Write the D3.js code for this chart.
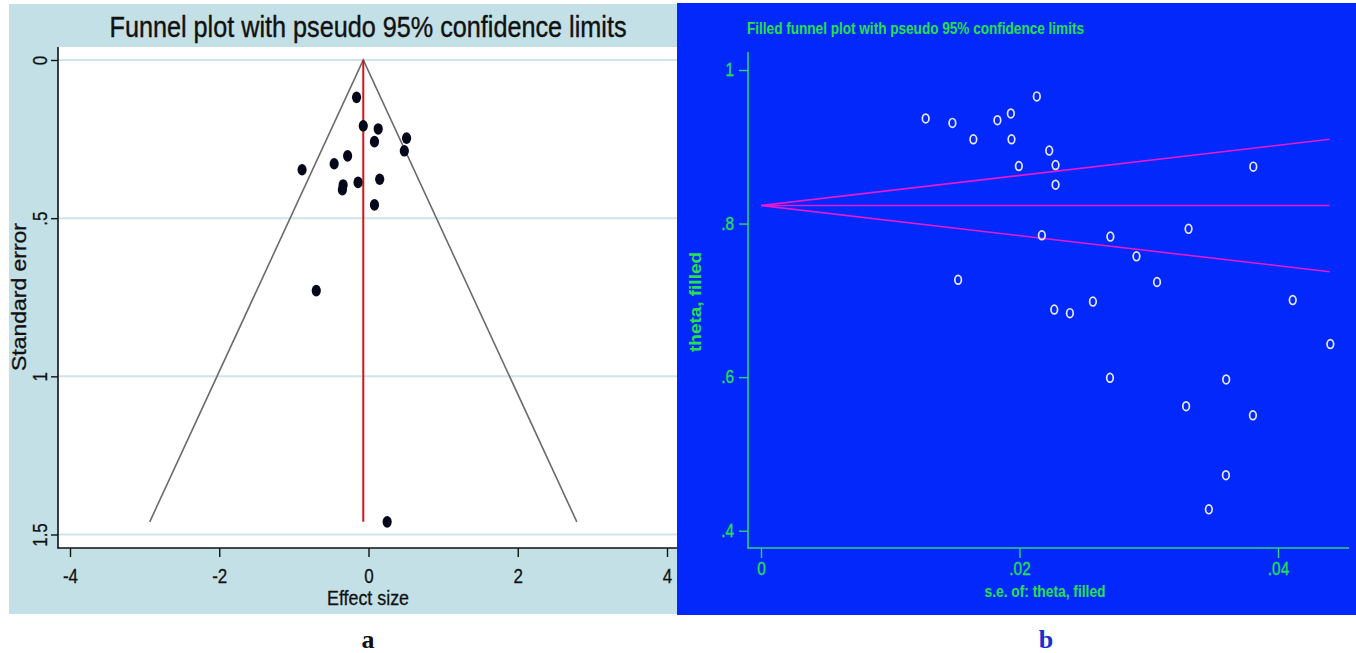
<!DOCTYPE html>
<html>
<head>
<meta charset="utf-8">
<script src="https://cdn.jsdelivr.net/npm/d3@7"></script>
<style>
  html, body { margin: 0; padding: 0; background: #ffffff; }
  svg { display: block; }
</style>
</head>
<body>
<svg id="chart" width="1356" height="653"></svg>
<script>
// ---------- Panel a data: funnel plot ----------
const leftEffect = [-0.16, -0.07, 0.13, 0.08, 0.51, 0.48, -0.28, -0.46, -0.89, -0.14, 0.15, -0.34, -0.35, 0.08, -0.70, 0.25];
const leftSE     = [0.118, 0.208, 0.218, 0.258, 0.247, 0.287, 0.303, 0.328, 0.347, 0.387, 0.377, 0.395, 0.410, 0.458, 0.729, 1.460];
const leftPooled = -0.07;
const leftMaxSE = 1.46;
const leftXTicks = [-4, -2, 0, 2, 4];
const leftXTickLabels = ["-4", "-2", "0", "2", "4"];
const leftYTicks = [0, 0.5, 1, 1.5];
const leftYTickLabels = ["0", ".5", "1", "1.5"];

// ---------- Panel b data: filled funnel plot ----------
const rightSE    = [0.01274, 0.01481, 0.01643, 0.01829, 0.01933, 0.01938, 0.01995, 0.02134, 0.02230, 0.02279, 0.02279, 0.03809, 0.02173, 0.02703, 0.03308, 0.02905, 0.01525, 0.03064, 0.02568, 0.02269, 0.02390, 0.04114, 0.04405, 0.02700, 0.03599, 0.03289, 0.03806, 0.03597, 0.03465];
const rightTheta = [0.9369, 0.9311, 0.9098, 0.9346, 0.9434, 0.9098, 0.8749, 0.9656, 0.8950, 0.8762, 0.8506, 0.8741, 0.7847, 0.7830, 0.7931, 0.7573, 0.7268, 0.7239, 0.6984, 0.6880, 0.6833, 0.7003, 0.6431, 0.5991, 0.5970, 0.5621, 0.5503, 0.4723, 0.4278];
const rightPooled = 0.8235;
const rightMaxSE = 0.044;
const rightXTicks = [0, 0.02, 0.04];
const rightXTickLabels = ["0", ".02", ".04"];
const rightYTicks = [0.4, 0.6, 0.8, 1];
const rightYTickLabels = [".4", ".6", ".8", "1"];

const svg = d3.select("#chart");
const narrow = "'Liberation Sans Narrow', 'Arial Narrow', 'Liberation Sans', Arial, sans-serif";

// squeeze text horizontally to mimic a condensed face
function condense(sel, f) {
  sel.each(function () {
    const w = this.getComputedTextLength();
    d3.select(this).attr("textLength", w * f).attr("lengthAdjust", "spacingAndGlyphs");
  });
}

// =================== PANEL A ===================
const gA = svg.append("g");
gA.append("rect").attr("x", 9).attr("y", 4).attr("width", 668).attr("height", 610).attr("fill", "#c4e0e7");
gA.append("rect").attr("x", 58).attr("y", 47).attr("width", 619).attr("height", 501).attr("fill", "#ffffff");

const xL = d3.scaleLinear().domain([-4, 4]).range([70, 667]);
const yL = d3.scaleLinear().domain([0, 1.5]).range([60, 534.5]);

// gridlines
gA.append("g").selectAll("line").data(leftYTicks).join("line")
  .attr("x1", 58).attr("x2", 677)
  .attr("y1", d => yL(d)).attr("y2", d => yL(d))
  .attr("stroke", "#cde5ea").attr("stroke-width", 2);

// funnel lines
const funnelPts = [[leftPooled - 1.96 * leftMaxSE, leftMaxSE], [leftPooled, 0], [leftPooled + 1.96 * leftMaxSE, leftMaxSE]];
gA.append("path")
  .attr("d", d3.line().x(d => xL(d[0])).y(d => yL(d[1]))(funnelPts))
  .attr("fill", "none").attr("stroke", "#6b6b6b").attr("stroke-width", 1.6);
gA.append("line")
  .attr("x1", xL(leftPooled)).attr("x2", xL(leftPooled))
  .attr("y1", yL(0)).attr("y2", yL(leftMaxSE))
  .attr("stroke", "#d4141a").attr("stroke-width", 2);

// points
gA.append("g").selectAll("ellipse").data(leftEffect).join("ellipse")
  .attr("cx", (d) => xL(d)).attr("cy", (d, i) => yL(leftSE[i]))
  .attr("rx", 4.6).attr("ry", 5.8).attr("fill", "#05081a");

// axes
const axL = gA.append("g").attr("transform", "translate(58,0)")
  .call(d3.axisLeft(yL).tickValues(leftYTicks).tickFormat((d, i) => leftYTickLabels[i]).tickSize(7).tickSizeOuter(0));
axL.select(".domain").remove();
axL.selectAll("line").attr("stroke", "#111").attr("stroke-width", 1.4);
axL.selectAll("text")
  .attr("x", 0).attr("dy", 0)
  .attr("transform", "translate(-11,0) rotate(-90)")
  .attr("text-anchor", "middle")
  .attr("font-family", narrow).attr("font-size", 20).attr("fill", "#111")
  .attr("stroke", "#111").attr("stroke-width", 0.3);
condense(axL.selectAll("text"), 0.85);

const axB = gA.append("g").attr("transform", "translate(0,548)")
  .call(d3.axisBottom(xL).tickValues(leftXTicks).tickFormat((d, i) => leftXTickLabels[i]).tickSize(9).tickPadding(12).tickSizeOuter(0));
axB.select(".domain").remove();
axB.selectAll("line").attr("stroke", "#111").attr("stroke-width", 1.4);
axB.selectAll("text").attr("font-family", narrow).attr("font-size", 20).attr("fill", "#111")
  .attr("stroke", "#111").attr("stroke-width", 0.3);
condense(axB.selectAll("text"), 0.85);

gA.append("line").attr("x1", 58).attr("x2", 58).attr("y1", 47).attr("y2", 548.5).attr("stroke", "#111").attr("stroke-width", 1.6);
gA.append("line").attr("x1", 57.5).attr("x2", 677).attr("y1", 548).attr("y2", 548).attr("stroke", "#111").attr("stroke-width", 1.6);

// titles
gA.append("text").attr("x", 368).attr("y", 37).attr("text-anchor", "middle")
  .attr("font-family", narrow).attr("font-size", 29).attr("fill", "#111")
  .attr("stroke", "#111").attr("stroke-width", 0.4)
  .attr("textLength", 517).attr("lengthAdjust", "spacingAndGlyphs")
  .text("Funnel plot with pseudo 95% confidence limits");
gA.append("text").attr("x", 368).attr("y", 605).attr("text-anchor", "middle")
  .attr("font-family", narrow).attr("font-size", 20).attr("fill", "#111")
  .attr("stroke", "#111").attr("stroke-width", 0.3)
  .attr("textLength", 82).attr("lengthAdjust", "spacingAndGlyphs")
  .text("Effect size");
gA.append("text").attr("transform", "translate(26,297) rotate(-90)").attr("text-anchor", "middle")
  .attr("font-family", narrow).attr("font-size", 20).attr("fill", "#111")
  .attr("stroke", "#111").attr("stroke-width", 0.3)
  .attr("textLength", 148).attr("lengthAdjust", "spacingAndGlyphs")
  .text("Standard error");

// =================== PANEL B ===================
const green = "#27e04a";
const gB = svg.append("g");
gB.append("rect").attr("x", 677).attr("y", 3).attr("width", 679).attr("height", 612).attr("fill", "#0328fb");

const xR = d3.scaleLinear().domain([0, 0.04]).range([761, 1278]);
const yR = d3.scaleLinear().domain([0.4, 1]).range([530.7, 70]);

// funnel lines (magenta)
const magenta = "#e41ad0";
const rfun = [
  [[0, rightPooled], [rightMaxSE, rightPooled + 1.96 * rightMaxSE]],
  [[0, rightPooled], [rightMaxSE, rightPooled]],
  [[0, rightPooled], [rightMaxSE, rightPooled - 1.96 * rightMaxSE]]
];
gB.append("g").selectAll("path").data(rfun).join("path")
  .attr("d", d3.line().x(d => xR(d[0])).y(d => yR(d[1])))
  .attr("fill", "none").attr("stroke", magenta).attr("stroke-width", 1.6);

// points (hollow)
gB.append("g").selectAll("ellipse").data(rightSE).join("ellipse")
  .attr("cx", d => xR(d)).attr("cy", (d, i) => yR(rightTheta[i]))
  .attr("rx", 3.3).attr("ry", 4.4)
  .attr("fill", "none").attr("stroke", "#e6e9ff").attr("stroke-width", 1.7);

// axes
const axRL = gB.append("g").attr("transform", "translate(748,0)")
  .call(d3.axisLeft(yR).tickValues(rightYTicks).tickFormat((d, i) => rightYTickLabels[i]).tickSize(9).tickPadding(5).tickSizeOuter(0));
axRL.select(".domain").remove();
axRL.selectAll("line").attr("stroke", "#2fd37a").attr("stroke-width", 1.4);
axRL.selectAll("text").attr("font-family", narrow).attr("font-size", 18).attr("fill", green)
  .attr("stroke", green).attr("stroke-width", 0.3);
condense(axRL.selectAll("text"), 0.85);

const axRB = gB.append("g").attr("transform", "translate(0,548)")
  .call(d3.axisBottom(xR).tickValues(rightXTicks).tickFormat((d, i) => rightXTickLabels[i]).tickSize(10).tickPadding(4).tickSizeOuter(0));
axRB.select(".domain").remove();
axRB.selectAll("line").attr("stroke", "#2fd37a").attr("stroke-width", 1.4);
axRB.selectAll("text").attr("font-family", narrow).attr("font-size", 18).attr("fill", green)
  .attr("stroke", green).attr("stroke-width", 0.3);
condense(axRB.selectAll("text"), 0.85);

gB.append("line").attr("x1", 748).attr("x2", 748).attr("y1", 52).attr("y2", 548.5).attr("stroke", "#2fd37a").attr("stroke-width", 1.6);
gB.append("line").attr("x1", 747.5).attr("x2", 1349).attr("y1", 548).attr("y2", 548).attr("stroke", "#2fd37a").attr("stroke-width", 1.6);

gB.append("text").attr("x", 747).attr("y", 34)
  .attr("font-family", narrow).attr("font-size", 16).attr("font-weight", "bold").attr("fill", green)
  .attr("textLength", 337).attr("lengthAdjust", "spacingAndGlyphs")
  .text("Filled funnel plot with pseudo 95% confidence limits");
gB.append("text").attr("x", 1045).attr("y", 597).attr("text-anchor", "middle")
  .attr("font-family", narrow).attr("font-size", 16).attr("font-weight", "bold").attr("fill", green)
  .attr("textLength", 121).attr("lengthAdjust", "spacingAndGlyphs")
  .text("s.e. of: theta, filled");
gB.append("text").attr("transform", "translate(701,302) rotate(-90)").attr("text-anchor", "middle")
  .attr("font-family", narrow).attr("font-size", 16).attr("font-weight", "bold").attr("fill", green)
  .attr("textLength", 100).attr("lengthAdjust", "spacingAndGlyphs")
  .text("theta, filled");

// panel letters
svg.append("text").attr("x", 368).attr("y", 648).attr("text-anchor", "middle")
  .attr("font-family", "'Liberation Serif', 'Times New Roman', serif").attr("font-size", 26).attr("font-weight", "bold").attr("fill", "#111")
  .text("a");
svg.append("text").attr("x", 1046).attr("y", 648).attr("text-anchor", "middle")
  .attr("font-family", "'Liberation Serif', 'Times New Roman', serif").attr("font-size", 26).attr("font-weight", "bold").attr("fill", "#1a2fd0")
  .text("b");
</script>
</body>
</html>
